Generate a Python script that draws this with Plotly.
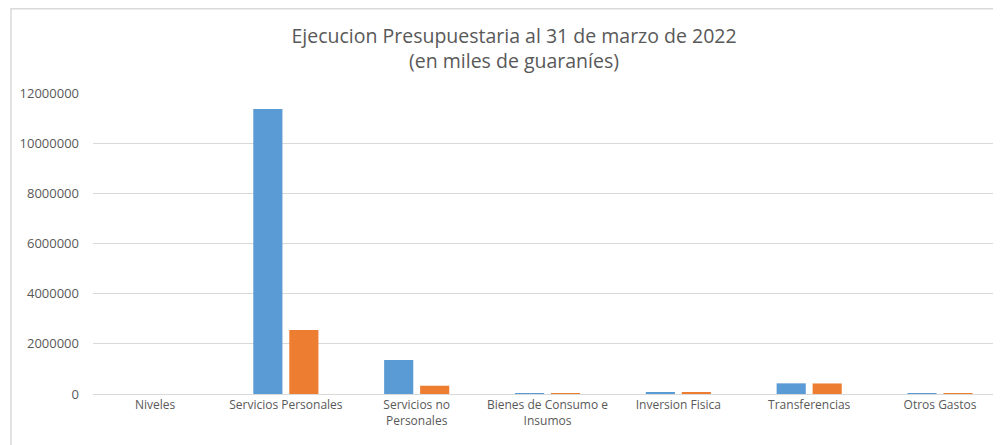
import plotly.graph_objects as go

# Datos (en miles de guaraníes)
categorias = ["Niveles", "Servicios Personales", "Servicios no<br>Personales",
              "Bienes de Consumo e<br>Insumos", "Inversion Fisica",
              "Transferencias", "Otros Gastos"]
presupuesto = [0, 11360000, 1360000, 3000, 70000, 425000, 9000]
ejecutado = [0, 2550000, 330000, 2000, 60000, 420000, 6000]
ticks_y = [0, 2000000, 4000000, 6000000, 8000000, 10000000, 12000000]

fig = go.Figure()
fig.add_trace(go.Bar(x=categorias, y=presupuesto, name="Presupuesto",
                     marker=dict(color="#5B9BD5", line=dict(width=0))))
fig.add_trace(go.Bar(x=categorias, y=ejecutado, name="Ejecutado",
                     marker=dict(color="#ED7D31", line=dict(width=0))))

# la pagina deja 8px de margen al body, por eso width/height reducidos
fig.update_layout(
    width=993, height=437,
    margin=dict(l=85, r=0, t=85, b=51),
    paper_bgcolor="white", plot_bgcolor="white",
    showlegend=False,
    barmode="group", bargap=0.45, bargroupgap=0.19,
    font=dict(family="Open Sans, Liberation Sans, sans-serif", color="#595959", size=12),
    title=dict(text="Ejecucion Presupuestaria al 31 de marzo de 2022<br>(en miles de guaraníes)",
               x=0.5096, xanchor="center", y=0.92, yanchor="middle", xref="container", yref="container",
               font=dict(size=19.5, color="#595959")),
    # marco del grafico
    shapes=[dict(type="rect", xref="paper", yref="paper",
                 x0=(3 - 85) / 908, x1=1.2, y0=-0.5, y1=(386 - 0.75) / 301,
                 line=dict(color="#d9d9d9", width=1.5), fillcolor="rgba(0,0,0,0)", layer="below")],
)
fig.update_xaxes(range=[-0.474, 6.466], showgrid=False, showline=True, linecolor="#d9d9d9",
                 linewidth=1, ticks="", tickfont=dict(size=12, color="#595959"))
fig.update_yaxes(range=[0, 12000000], tickvals=ticks_y, ticktext=[str(v) for v in ticks_y],
                 showgrid=True, gridcolor="#d9d9d9", gridwidth=1, zeroline=False,
                 showline=False, ticks="", ticklabelstandoff=13, tickfont=dict(size=13, color="#595959"))

fig.write_html("out.html")
